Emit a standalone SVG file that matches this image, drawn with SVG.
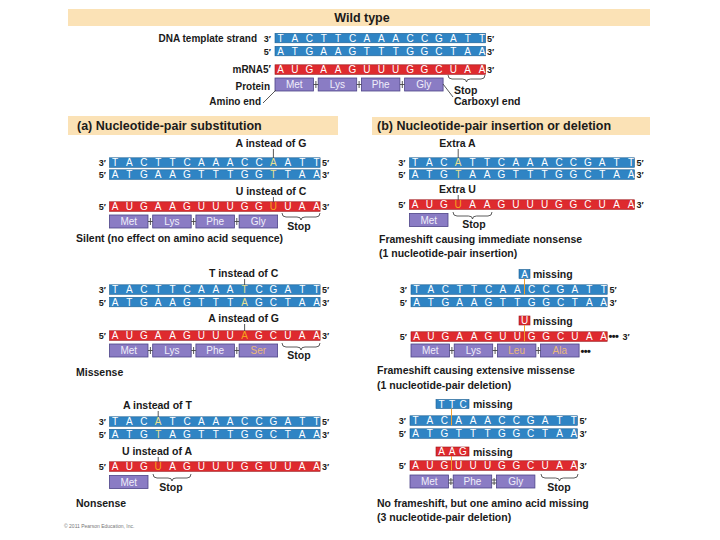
<svg xmlns="http://www.w3.org/2000/svg" width="720" height="540" viewBox="0 0 720 540">
<style>
text{font-family:"Liberation Sans",Arial,sans-serif}
.band{fill:#fbe2b6}
.hd{font-size:12.5px;font-weight:bold;fill:#1a1a1a}
.dna{fill:#2f84c4;stroke:#1d5f92;stroke-width:0.6}
.rna{fill:#de2a2e;stroke:#9a1518;stroke-width:0.6}
.seq{font-size:10px;fill:#fff;text-anchor:middle}
.md{fill:#ece08e}
.mr{fill:#f6a21c}
.aa{fill:#8a7cc4;stroke:#4d4488;stroke-width:0.8}
.aat{font-size:10px;fill:#f0eefa;text-anchor:middle}
.tan{fill:#e9b97a}
.end{font-size:9px;font-weight:bold;fill:#1a1a1a}
.lbl{font-size:10.5px;font-weight:bold;fill:#1a1a1a}
.wl{font-size:10px;font-weight:bold;fill:#1a1a1a}
.c{text-anchor:middle}
.r{text-anchor:end}
.brace{fill:none;stroke:#333;stroke-width:0.8}
.ptr{stroke:#444;stroke-width:0.9}
.optr{stroke:#f0a030;stroke-width:1}
.bond{stroke:#444;stroke-width:0.9;fill:none}
.dots{font-size:11px;font-weight:bold;fill:#1a1a1a;letter-spacing:-0.6px}
</style>

<g id="wild-type">
<rect class="band" x="68" y="9" width="582" height="17"/>
<text class="hd c" x="362" y="22">Wild type</text>
<text class="wl r" x="257" y="41.8">DNA template strand</text>
<text class="end r" x="271" y="41.8">3′</text>
<text class="end r" x="271" y="54.8">5′</text>
<text class="wl r" x="271" y="73.3">mRNA5′</text>
<text class="wl r" x="270" y="89.5">Protein</text>
<text class="wl r" x="261" y="105">Amino end</text>
<rect class="dna" x="275" y="33.3" width="210.6" height="9.5"/>
<rect class="dna" x="275" y="46.3" width="210.6" height="9.5"/>
<rect class="rna" x="275" y="64.8" width="210.6" height="9.5"/>
<text class="seq" x="280.5 294.9 309.3 323.7 338.1 352.5 366.9 381.3 395.7 410.1 424.5 438.9 453.3 467.7 482.1" y="41.6">TACTTCAAACCGATT</text>
<text class="seq" x="280.5 294.9 309.3 323.7 338.1 352.5 366.9 381.3 395.7 410.1 424.5 438.9 453.3 467.7 482.1" y="54.6">ATGAAGTTTGGCTAA</text>
<text class="seq" x="280.5 294.9 309.3 323.7 338.1 352.5 366.9 381.3 395.7 410.1 424.5 438.9 453.3 467.7 482.1" y="73.1">AUGAAGUUUGGCUAA</text>
<text class="end" x="487" y="41.8">5′</text>
<text class="end" x="487" y="54.8">3′</text>
<text class="end" x="487" y="73.3">3′</text>
<rect class="aa" x="275" y="78" width="38.5" height="13"/>
<rect class="aa" x="318.2" y="78" width="38.5" height="13"/>
<rect class="aa" x="361.4" y="78" width="38.5" height="13"/>
<rect class="aa" x="404.6" y="78" width="38.5" height="13"/>
<text class="aat" x="294.25" y="88">Met</text>
<text class="aat" x="337.45" y="88">Lys</text>
<text class="aat" x="380.65" y="88">Phe</text>
<text class="aat" x="423.85" y="88">Gly</text>
<path class="brace" d="M448 75 q0 4 4 4 H462.5 q4 0 4 3 q0 -3 4 -3 H481 q4 0 4 -4"/>
<text class="lbl" x="454" y="93.5">Stop</text>
<text class="lbl" x="454" y="105">Carboxyl end</text>
</g>

<g id="substitution-silent">
<rect class="band" x="68" y="116" width="270" height="19"/>
<text class="hd" x="77" y="130">(a) Nucleotide-pair substitution</text>
<text class="lbl c" x="271" y="147">A instead of G</text>
<text class="end r" x="106" y="166">3′</text>
<text class="end r" x="106" y="178">5′</text>
<rect class="dna" x="109.5" y="157.8" width="210.6" height="9.5"/>
<rect class="dna" x="109.5" y="169.8" width="210.6" height="9.5"/>
<text class="seq" x="115 129.4 143.8 158.2 172.6 187 201.4 215.8 230.2 244.6 259 273.4 287.8 302.2 316.6" y="166.1">TACTTCAAACC<tspan class="md">A</tspan>ATT</text>
<text class="seq" x="115 129.4 143.8 158.2 172.6 187 201.4 215.8 230.2 244.6 259 273.4 287.8 302.2 316.6" y="178.1">ATGAAGTTTGG<tspan class="md">T</tspan>TAA</text>
<text class="end" x="322" y="166">5′</text>
<text class="end" x="322" y="178">3′</text>
<text class="lbl c" x="271" y="195">U instead of C</text>
<text class="end r" x="106" y="210">5′</text>
<rect class="rna" x="109.5" y="201.8" width="210.6" height="9.5"/>
<text class="seq" x="115 129.4 143.8 158.2 172.6 187 201.4 215.8 230.2 244.6 259 273.4 287.8 302.2 316.6" y="210.1">AUGAAGUUUGG<tspan class="mr">U</tspan>UAA</text>
<text class="end" x="322" y="210">3′</text>
<rect class="aa" x="109.5" y="215" width="38.5" height="13"/>
<rect class="aa" x="152.7" y="215" width="38.5" height="13"/>
<rect class="aa" x="195.9" y="215" width="38.5" height="13"/>
<rect class="aa" x="239.1" y="215" width="38.5" height="13"/>
<text class="aat" x="128.75" y="225">Met</text>
<text class="aat" x="171.95" y="225">Lys</text>
<text class="aat" x="215.15" y="225">Phe</text>
<text class="aat" x="258.35" y="225">Gly</text>
<path class="brace" d="M282 213 q0 4 4 4 H297 q4 0 4 3 q0 -3 4 -3 H316 q4 0 4 -4"/>
<text class="lbl c" x="299" y="229.5">Stop</text>
<text class="lbl" x="76" y="242">Silent (no effect on amino acid sequence)</text>
</g>

<g id="substitution-missense">
<text class="lbl c" x="243.6" y="276.5">T instead of C</text>
<text class="end r" x="106" y="293">3′</text>
<text class="end r" x="106" y="305.5">5′</text>
<rect class="dna" x="109.5" y="284.8" width="210.6" height="9.5"/>
<rect class="dna" x="109.5" y="297.3" width="210.6" height="9.5"/>
<text class="seq" x="115 129.4 143.8 158.2 172.6 187 201.4 215.8 230.2 244.6 259 273.4 287.8 302.2 316.6" y="293.1">TACTTCAAA<tspan class="md">T</tspan>CGATT</text>
<text class="seq" x="115 129.4 143.8 158.2 172.6 187 201.4 215.8 230.2 244.6 259 273.4 287.8 302.2 316.6" y="305.6">ATGAAGTTT<tspan class="md">A</tspan>GCTAA</text>
<text class="end" x="322" y="293">5′</text>
<text class="end" x="322" y="305.5">3′</text>
<text class="lbl c" x="243.6" y="322">A instead of G</text>
<text class="end r" x="106" y="339">5′</text>
<rect class="rna" x="109.5" y="330.8" width="210.6" height="9.5"/>
<text class="seq" x="115 129.4 143.8 158.2 172.6 187 201.4 215.8 230.2 244.6 259 273.4 287.8 302.2 316.6" y="339.1">AUGAAGUUU<tspan class="mr">A</tspan>GCUAA</text>
<text class="end" x="322" y="339">3′</text>
<rect class="aa" x="109.5" y="344" width="38.5" height="13"/>
<rect class="aa" x="152.7" y="344" width="38.5" height="13"/>
<rect class="aa" x="195.9" y="344" width="38.5" height="13"/>
<rect class="aa" x="239.1" y="344" width="38.5" height="13"/>
<text class="aat" x="128.75" y="354">Met</text>
<text class="aat" x="171.95" y="354">Lys</text>
<text class="aat" x="215.15" y="354">Phe</text>
<text class="aat tan" x="258.35" y="354">Ser</text>
<path class="brace" d="M282 343 q0 4 4 4 H297 q4 0 4 3 q0 -3 4 -3 H316 q4 0 4 -4"/>
<text class="lbl c" x="299" y="359">Stop</text>
<text class="lbl" x="76" y="375.5">Missense</text>
</g>

<g id="substitution-nonsense">
<text class="lbl c" x="157.4" y="409">A instead of T</text>
<text class="end r" x="106" y="425">3′</text>
<text class="end r" x="106" y="437.5">5′</text>
<rect class="dna" x="109.5" y="416.8" width="210.6" height="9.5"/>
<rect class="dna" x="109.5" y="429.3" width="210.6" height="9.5"/>
<text class="seq" x="115 129.4 143.8 158.2 172.6 187 201.4 215.8 230.2 244.6 259 273.4 287.8 302.2 316.6" y="425.1">TAC<tspan class="md">A</tspan>TCAAACCGATT</text>
<text class="seq" x="115 129.4 143.8 158.2 172.6 187 201.4 215.8 230.2 244.6 259 273.4 287.8 302.2 316.6" y="437.6">ATG<tspan class="md">T</tspan>AGTTTGGCTAA</text>
<text class="end" x="322" y="425">5′</text>
<text class="end" x="322" y="437.5">3′</text>
<text class="lbl c" x="157" y="455">U instead of A</text>
<text class="end r" x="106" y="470">5′</text>
<rect class="rna" x="109.5" y="461.8" width="210.6" height="9.5"/>
<text class="seq" x="115 129.4 143.8 158.2 172.6 187 201.4 215.8 230.2 244.6 259 273.4 287.8 302.2 316.6" y="470.1">AUG<tspan class="mr">U</tspan>AGUUUGGUUAA</text>
<text class="end" x="322" y="470">3′</text>
<rect class="aa" x="109.5" y="475.5" width="38.5" height="13"/>
<text class="aat" x="128.75" y="485.5">Met</text>
<path class="brace" d="M153 474 q0 4 4 4 H168 q4 0 4 3 q0 -3 4 -3 H187 q4 0 4 -4"/>
<text class="lbl c" x="171" y="491">Stop</text>
<text class="lbl" x="76" y="507">Nonsense</text>
<text x="64" y="528" style="font-size:5px;fill:#777">© 2011 Pearson Education, Inc.</text>
</g>

<g id="insertion">
<rect class="band" x="372" y="117" width="278" height="18"/>
<text class="hd" x="377" y="130">(b) Nucleotide-pair insertion or deletion</text>
<text class="lbl c" x="457.5" y="147">Extra A</text>
<text class="end r" x="405.5" y="166">3′</text>
<text class="end r" x="405.5" y="178">5′</text>
<rect class="dna" x="409.5" y="157.8" width="225" height="9.5"/>
<rect class="dna" x="409.5" y="169.8" width="225" height="9.5"/>
<text class="seq" x="415 429.4 443.8 458.2 472.6 487 501.4 515.8 530.2 544.6 559 573.4 587.8 602.2 616.6 631" y="166.1">TAC<tspan class="md">A</tspan>TTCAAACCGATT</text>
<text class="seq" x="415 429.4 443.8 458.2 472.6 487 501.4 515.8 530.2 544.6 559 573.4 587.8 602.2 616.6 631" y="178.1">ATG<tspan class="md">T</tspan>AAGTTTGGCTAA</text>
<text class="end" x="636.5" y="166">5′</text>
<text class="end" x="636.5" y="178">3′</text>
<text class="lbl c" x="457.5" y="193">Extra U</text>
<text class="end r" x="405.5" y="208">5′</text>
<rect class="rna" x="409.5" y="199.8" width="225" height="9.5"/>
<text class="seq" x="415 429.4 443.8 458.2 472.6 487 501.4 515.8 530.2 544.6 559 573.4 587.8 602.2 616.6 631" y="208.1">AUG<tspan class="mr">U</tspan>AAGUUUGGCUAA</text>
<text class="end" x="636.5" y="208">3′</text>
<rect class="aa" x="409.5" y="213.5" width="38.5" height="13"/>
<text class="aat" x="428.75" y="223.5">Met</text>
<path class="brace" d="M453 212 q0 4 4 4 H468.5 q4 0 4 3 q0 -3 4 -3 H488 q4 0 4 -4"/>
<text class="lbl c" x="474" y="227.5">Stop</text>
<text class="lbl" x="379" y="243">Frameshift causing immediate nonsense</text>
<text class="lbl" x="379" y="256.5">(1 nucleotide-pair insertion)</text>
</g>

<g id="deletion-one">
<rect class="dna" x="519" y="269.5" width="11" height="9"/>
<text class="seq" x="524.5" y="277.6">A</text>
<text class="lbl" x="533" y="278">missing</text>
<text class="end r" x="407" y="293">3′</text>
<text class="end r" x="407" y="305.5">5′</text>
<rect class="dna" x="411" y="284.8" width="196.2" height="9.5"/>
<rect class="dna" x="411" y="297.3" width="196.2" height="9.5"/>
<text class="seq" x="416.5 430.9 445.3 459.7 474.1 488.5 502.9 517.3 531.7 546.1 560.5 574.9 589.3 603.7" y="293.1">TACTTCAACCGATT</text>
<text class="seq" x="416.5 430.9 445.3 459.7 474.1 488.5 502.9 517.3 531.7 546.1 560.5 574.9 589.3 603.7" y="305.6">ATGAAGTTGGCTAA</text>
<text class="end" x="609.5" y="293">5′</text>
<text class="end" x="609.5" y="305.5">3′</text>
<rect class="rna" x="519" y="316" width="11" height="9"/>
<text class="seq" x="524.5" y="324.1">U</text>
<text class="lbl" x="533" y="325">missing</text>
<text class="end r" x="407" y="340">5′</text>
<rect class="rna" x="411" y="331.8" width="196.2" height="9.5"/>
<text class="seq" x="416.5 430.9 445.3 459.7 474.1 488.5 502.9 517.3 531.7 546.1 560.5 574.9 589.3 603.7" y="340.1">AUGAAGUUGGCUAA</text>
<text class="dots" x="608.5" y="340">•••</text>
<text class="end" x="622.5" y="340">3′</text>
<rect class="aa" x="411" y="344" width="38.5" height="13"/>
<rect class="aa" x="454.2" y="344" width="38.5" height="13"/>
<rect class="aa" x="497.4" y="344" width="38.5" height="13"/>
<rect class="aa" x="540.6" y="344" width="38.5" height="13"/>
<text class="aat" x="430.25" y="354">Met</text>
<text class="aat" x="473.45" y="354">Lys</text>
<text class="aat tan" x="516.65" y="354">Leu</text>
<text class="aat tan" x="559.85" y="354">Ala</text>
<text class="dots" x="580.5" y="354.5">•••</text>
<text class="lbl" x="377" y="374">Frameshift causing extensive missense</text>
<text class="lbl" x="377" y="389">(1 nucleotide-pair deletion)</text>
</g>

<g id="deletion-three">
<rect class="dna" x="436" y="399.5" width="33" height="9"/>
<text class="seq" x="441.5 452 463" y="407.6">TTC</text>
<text class="lbl" x="473" y="408">missing</text>
<text class="end r" x="406" y="424">3′</text>
<text class="end r" x="406" y="437">5′</text>
<rect class="dna" x="410" y="415.8" width="167.4" height="9.5"/>
<rect class="dna" x="410" y="428.8" width="167.4" height="9.5"/>
<text class="seq" x="415.5 429.9 444.3 458.7 473.1 487.5 501.9 516.3 530.7 545.1 559.5 573.9" y="424.1">TACAAACCGATT</text>
<text class="seq" x="415.5 429.9 444.3 458.7 473.1 487.5 501.9 516.3 530.7 545.1 559.5 573.9" y="437.1">ATGTTTGGCTAA</text>
<text class="end" x="579.5" y="424">5′</text>
<text class="end" x="579.5" y="437">3′</text>
<rect class="rna" x="436" y="447" width="33" height="9"/>
<text class="seq" x="441.5 452 463" y="455.1">AAG</text>
<text class="lbl" x="473" y="455.5">missing</text>
<text class="end r" x="406" y="469">5′</text>
<rect class="rna" x="410" y="460.8" width="167.4" height="9.5"/>
<text class="seq" x="415.5 429.9 444.3 458.7 473.1 487.5 501.9 516.3 530.7 545.1 559.5 573.9" y="469.1">AUGUUUGGCUAA</text>
<text class="end" x="579.5" y="469">3′</text>
<rect class="aa" x="410" y="475" width="38.5" height="13"/>
<rect class="aa" x="453.2" y="475" width="38.5" height="13"/>
<rect class="aa" x="496.4" y="475" width="38.5" height="13"/>
<text class="aat" x="429.25" y="485">Met</text>
<text class="aat" x="472.45" y="485">Phe</text>
<text class="aat" x="515.65" y="485">Gly</text>
<path class="brace" d="M541 474 q0 4 4 4 H555.5 q4 0 4 3 q0 -3 4 -3 H574 q4 0 4 -4"/>
<text class="lbl c" x="559" y="491">Stop</text>
<text class="lbl" x="377" y="506.5">No frameshift, but one amino acid missing</text>
<text class="lbl" x="377" y="520.5">(3 nucleotide-pair deletion)</text>
</g>

<g id="connectors">
<line class="ptr" x1="276" y1="90" x2="263" y2="103"/>
<line class="ptr" x1="443" y1="84" x2="453" y2="97"/>
<path class="bond" d="M313.5 84.5 H318.2 M356.7 84.5 H361.4 M399.9 84.5 H404.6 M315.9 81 V88 M359.1 81 V88 M402.3 81 V88"/>
<path class="bond" d="M148 221.5 H152.7 M191.2 221.5 H195.9 M234.4 221.5 H239.1 M150.4 218 V225 M193.6 218 V225 M236.8 218 V225"/>
<path class="bond" d="M148 350.5 H152.7 M191.2 350.5 H195.9 M234.4 350.5 H239.1 M150.4 347 V354 M193.6 347 V354 M236.8 347 V354"/>
<path class="bond" d="M449.5 350.5 H454.2 M492.7 350.5 H497.4 M535.9 350.5 H540.6 M451.9 347 V354 M495.1 347 V354 M538.3 347 V354"/>
<path class="bond" d="M448.5 480 H453.2 M448.5 483 H453.2 M491.7 480 H496.4 M491.7 483 H496.4 M450.9 478 V485 M494.1 478 V485"/>
<line class="ptr" x1="273.4" y1="149" x2="273.4" y2="158"/>
<line class="ptr" x1="273.4" y1="197" x2="273.4" y2="202"/>
<line class="ptr" x1="244.6" y1="279" x2="244.6" y2="285"/>
<line class="ptr" x1="244.6" y1="324" x2="244.6" y2="331"/>
<line class="ptr" x1="158.2" y1="411" x2="158.2" y2="417"/>
<line class="ptr" x1="158.2" y1="457" x2="158.2" y2="462"/>
<line class="ptr" x1="458.2" y1="149" x2="458.2" y2="158"/>
<line class="ptr" x1="458.2" y1="195" x2="458.2" y2="200"/>
<line class="optr" x1="524.5" y1="278.5" x2="524.5" y2="294.3"/>
<line class="optr" x1="524.5" y1="325" x2="524.5" y2="341.3"/>
<line class="optr" x1="451.5" y1="408.5" x2="451.5" y2="425.3"/>
<line class="optr" x1="451.5" y1="456" x2="451.5" y2="470.3"/>
</g>
</svg>
